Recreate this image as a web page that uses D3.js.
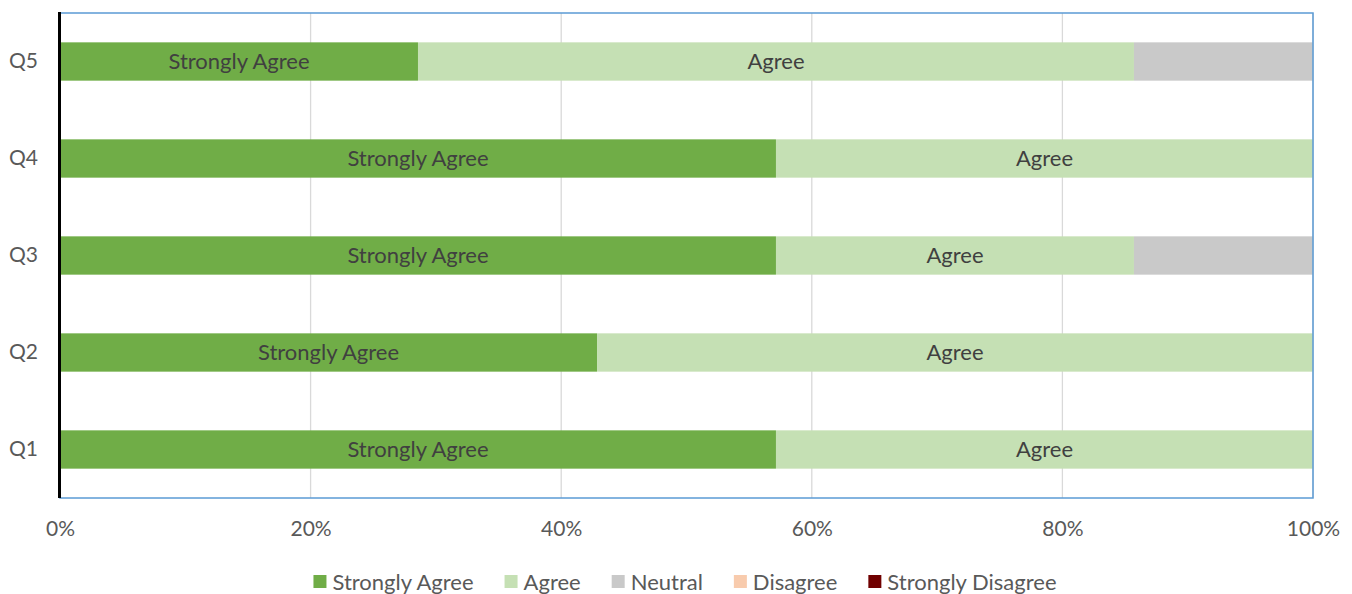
<!DOCTYPE html>
<html><head><meta charset="utf-8">
<script src="https://cdn.jsdelivr.net/npm/d3@7"></script>
<style>body{margin:0;background:#fff;}svg{display:block;font-family:Lato, "Open Sans", sans-serif;}</style>
</head><body>
<svg id="c" width="1352" height="594"></svg>
<script>
const categories = ["Q1","Q2","Q3","Q4","Q5"];
const seriesNames = ["Strongly Agree","Agree","Neutral","Disagree","Strongly Disagree"];
const stronglyAgree = [57.14, 42.86, 57.14, 57.14, 28.57];
const agree = [42.86, 57.14, 28.57, 42.86, 57.14];
const neutral = [0, 0, 14.29, 0, 14.29];
const disagree = [0, 0, 0, 0, 0];
const stronglyDisagree = [0, 0, 0, 0, 0];
const xTicks = [0, 20, 40, 60, 80, 100];
const colors = ["#70AD47","#C5E0B4","#C9C9C9","#F8CBAD","#700000"];

const seriesVals = [stronglyAgree, agree, neutral, disagree, stronglyDisagree];
const rows = categories.map((c,i)=>{const o={cat:c}; seriesNames.forEach((s,j)=>o[s]=seriesVals[j][i]); return o;});
const stacked = d3.stack().keys(seriesNames)(rows);

const svg = d3.select("#c");
const m = {l:60, r:1313, t:13, b:498};
const x = d3.scaleLinear().domain([0,100]).range([m.l, m.r]);
const y = d3.scaleBand().domain(categories.slice().reverse()).range([m.t, m.b]).paddingInner(0.605).paddingOuter(0.3025);

// gridlines
svg.append("g").selectAll("line").data(xTicks).join("line")
  .attr("x1",d=>x(d)).attr("x2",d=>x(d)).attr("y1",m.t).attr("y2",m.b)
  .attr("stroke","#D9D9D9").attr("stroke-width",1.3);

// bars
const g = svg.append("g");
stacked.forEach((s,si)=>{
  g.append("g").selectAll("rect").data(s).join("rect")
    .attr("x",d=>x(d[0])).attr("width",d=>x(d[1])-x(d[0]))
    .attr("y",d=>y(d.data.cat)).attr("height",y.bandwidth())
    .attr("fill",colors[si]);
});
// labels (only SA and Agree shown in reference)
stacked.forEach((s,si)=>{
  if(si>1) return;
  g.append("g").selectAll("text").data(s.filter(d=>d[1]-d[0]>0)).join("text")
    .attr("x",d=>(x(d[0])+x(d[1]))/2).attr("y",d=>y(d.data.cat)+y.bandwidth()/2)
    .attr("dy","0.36em").attr("text-anchor","middle")
    .attr("font-size",22).attr("fill","#404040").text(seriesNames[si]);
});

// plot border (blue)
svg.append("rect").attr("x",m.l).attr("y",m.t).attr("width",m.r-m.l).attr("height",m.b-m.t)
  .attr("fill","none").attr("stroke","#5B9BD5").attr("stroke-width",1.5);
// left axis line
svg.append("line").attr("x1",m.l-0.5).attr("x2",m.l-0.5).attr("y1",m.t-1).attr("y2",m.b)
  .attr("stroke","#000").attr("stroke-width",3);

// x axis
const xa = svg.append("g").attr("transform",`translate(0,${m.b})`)
  .call(d3.axisBottom(x).tickValues(xTicks).tickFormat(d=>d+"%").tickSize(0).tickPadding(23));
xa.select(".domain").remove();
xa.selectAll("text").attr("font-size",21).attr("fill","#595959").attr("font-family","Lato, 'Open Sans', sans-serif");

// y axis
const ya = svg.append("g").attr("transform",`translate(${m.l},0)`)
  .call(d3.axisLeft(y).tickSize(0).tickPadding(22));
ya.select(".domain").remove();
ya.selectAll("text").attr("font-size",21).attr("fill","#595959").attr("font-family","Lato, 'Open Sans', sans-serif");

// legend
const leg = svg.append("g");
let lx = 0;
seriesNames.forEach((s,i)=>{
  const it = leg.append("g").attr("transform",`translate(${lx},0)`);
  it.append("rect").attr("x",0).attr("y",-7).attr("width",13).attr("height",13).attr("fill",colors[i]);
  const t = it.append("text").attr("x",19).attr("y",0).attr("dy","0.36em").attr("font-size",22).attr("fill","#595959").text(s);
  const w = t.node().getComputedTextLength();
  lx += 19 + w + 31;
});
const total = lx - 31;
leg.attr("transform",`translate(${685 - total/2},582)`);
</script>
</body></html>
